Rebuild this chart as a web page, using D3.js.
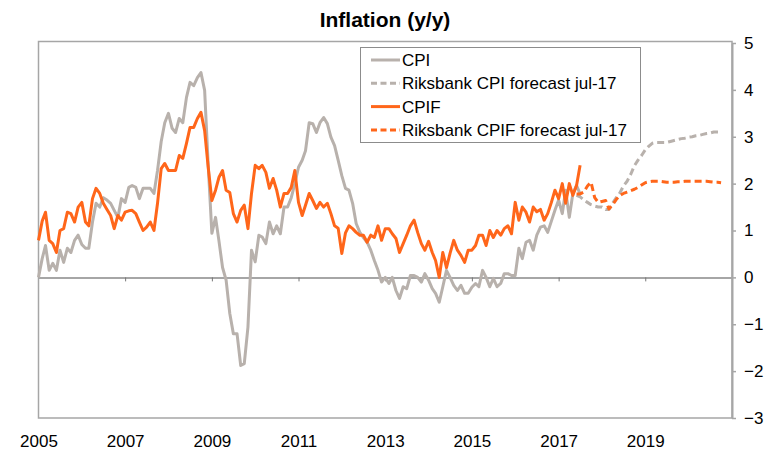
<!DOCTYPE html>
<html>
<head>
<meta charset="utf-8">
<script src="https://cdnjs.cloudflare.com/ajax/libs/d3/7.8.5/d3.min.js"></script>
<style>
  body { margin: 0; background: #fff; }
  text { font-family: Arial, "Liberation Sans", sans-serif; fill: #000; }
</style>
</head>
<body>
<div id="chart"></div>
<script>
// ---------- data (monthly, y/y %) ----------

// CPI, jan 2005 .. jul 2017 (one row per year)
var cpi = [
  0.0, 0.4, 0.68, 0.15, 0.3, 0.15, 0.58, 0.32, 0.62, 0.53, 0.79, 0.9,
  0.7, 0.62, 0.62, 1.18, 1.58, 1.5, 1.7, 1.65, 1.58, 1.43, 1.28, 1.68,
  1.6, 1.92, 1.96, 1.92, 1.68, 1.9, 1.9, 1.9, 1.79, 2.28, 2.9, 3.3,
  3.5, 3.18, 3.09, 3.39, 3.3, 3.84, 4.16, 4.09, 4.26, 4.37, 3.99, 2.4,
  0.94, 1.28, 0.79, 0.21, -0.06, -0.77, -1.2, -1.2, -1.88, -1.84, -1.06, 0.58,
  0.33, 0.9, 0.86, 0.72, 1.18, 0.93, 1.1, 0.93, 1.5, 1.5, 1.7, 2.0,
  2.35, 2.5, 2.7, 3.3, 3.28, 3.09, 3.3, 3.41, 3.28, 2.99, 2.81, 2.5,
  2.17, 1.9, 1.86, 1.58, 1.15, 0.96, 0.85, 0.75, 0.58, 0.36, 0.15, -0.1,
  0.0, -0.13, 0.0, -0.28, -0.45, -0.2, -0.24, 0.04, 0.04, 0.0, -0.1, 0.08,
  -0.06, -0.24, -0.34, -0.53, -0.2, 0.15, 0.0, -0.17, -0.28, -0.17, -0.34, -0.34,
  -0.21, -0.13, -0.2, 0.15, 0.0, -0.2, -0.02, -0.2, -0.13, 0.08, 0.08, 0.04,
  0.04, 0.62, 0.4, 0.75, 0.79, 0.58, 0.9, 1.07, 1.1, 0.96, 1.2, 1.43,
  1.65, 1.36, 1.86, 1.28, 1.79, 1.96, 1.78
];

// CPIF, jan 2005 .. jul 2017
var cpif = [
  0.79, 1.2, 1.39, 0.79, 0.72, 0.53, 1.0, 1.04, 1.39, 1.36, 1.18, 1.5,
  1.6, 1.18, 1.1, 1.68, 1.9, 1.79, 1.58, 1.45, 1.32, 1.04, 1.32, 1.22,
  1.39, 1.42, 1.43, 1.36, 1.18, 1.0, 1.07, 1.18, 1.0, 1.58, 2.32, 2.43,
  2.28, 2.28, 2.28, 2.6, 2.54, 2.86, 3.2, 3.2, 3.39, 3.52, 3.13, 2.35,
  1.64, 1.86, 2.13, 2.28, 1.86, 1.81, 1.36, 1.18, 1.43, 1.54, 1.04, 1.79,
  2.39, 2.32, 2.39, 2.24, 1.9, 2.11, 1.86, 1.5, 1.79, 1.79, 1.92, 2.28,
  1.6, 1.32, 1.54, 1.79, 1.64, 1.47, 1.6, 1.5, 1.58, 1.36, 1.1, 1.05,
  0.51, 0.95, 1.1, 1.04, 0.96, 0.9, 0.9, 0.75, 0.9, 0.85, 1.1, 0.79,
  1.04, 1.04, 0.93, 0.83, 0.53, 0.72, 0.9, 1.1, 1.22, 0.96, 0.72, 0.58,
  0.77, 0.53, 0.36, 0.0, 0.53, 0.21, 0.51, 0.79, 0.58, 0.47, 0.32, 0.58,
  0.58, 0.68, 0.9, 0.9, 0.68, 1.0, 0.85, 1.0, 0.9, 1.04, 1.1, 0.93,
  1.6, 1.22, 1.5, 1.39, 1.18, 1.5, 1.4, 1.45, 1.22, 1.36, 1.6, 1.86,
  1.68, 2.0, 1.58, 2.0, 1.75, 1.96, 2.39
];

// Riksbank forecasts jul-17, jun 2017 .. oct 2020
var forecastStart = 149; // months after jan 2005
var cpiForecast = [
  1.75, 1.72, 1.65, 1.6, 1.55, 1.52, 1.5, 1.5, 1.45, 1.45, 1.58, 1.7,
  1.8, 1.95, 2.05, 2.2, 2.38, 2.5, 2.6, 2.72, 2.8, 2.86, 2.88, 2.88,
  2.88, 2.88, 2.9, 2.92, 2.94, 2.96, 2.97, 2.99, 3.0, 3.02, 3.03, 3.05,
  3.07, 3.08, 3.1, 3.1, 3.1
];
var cpifForecast = [
  1.78, 1.78, 1.82, 1.95, 2.03, 1.7, 1.6, 1.62, 1.64, 1.46, 1.55, 1.66,
  1.75, 1.79, 1.82, 1.85, 1.88, 1.92, 1.97, 2.02, 2.04, 2.05, 2.05, 2.05,
  2.04, 2.03, 2.03, 2.03, 2.04, 2.04, 2.05, 2.05, 2.05, 2.05, 2.05, 2.05,
  2.05, 2.04, 2.03, 2.03, 2.02
];

var yearLabels = ["2005", "2007", "2009", "2011", "2013", "2015", "2017", "2019"];
var yTicks = [5, 4, 3, 2, 1, 0, -1, -2, -3];

var legendNames = ["CPI", "Riksbank CPI forecast jul-17", "CPIF", "Riksbank CPIF forecast jul-17"];

// ---------- chart ----------
var width = 765, height = 452;
var grey = "#b8b1ac", orange = "#ff661a", frame = "#a6a6a6";

var svg = d3.select("#chart").append("svg")
  .attr("width", width)
  .attr("height", height);

svg.append("rect").attr("width", width).attr("height", height).attr("fill", "#fff");

var x = d3.scaleTime()
  .domain([new Date(2005, 0, 1), new Date(2021, 0, 1)])
  .range([38.5, 732]);

var y = d3.scaleLinear()
  .domain([-3, 5])
  .range([418, 43]);

function month(i) { return new Date(2005, i, 1); }

// plot frame
svg.append("rect")
  .attr("x", 38.5).attr("y", 41.5)
  .attr("width", 732 - 38.5).attr("height", 418 - 41.5)
  .attr("fill", "none")
  .attr("stroke", frame)
  .attr("stroke-width", 1.5);

// zero line with year ticks
var zeroAxis = svg.append("g")
  .attr("transform", "translate(0," + y(0) + ")")
  .call(d3.axisBottom(x)
    .tickValues(d3.range(2007, 2021, 2).map(function(yr){ return new Date(yr, 0, 1); }))
    .tickSize(4)
    .tickSizeOuter(0)
    .tickFormat(""));
zeroAxis.select(".domain").attr("stroke", frame).attr("stroke-width", 2);
zeroAxis.selectAll(".tick line").attr("stroke", "#777").attr("stroke-width", 1);

// year labels under the frame
var labelAxis = svg.append("g")
  .attr("transform", "translate(0,418)")
  .call(d3.axisBottom(x)
    .tickValues(yearLabels.map(function(s){ return new Date(+s, 0, 1); }))
    .tickSize(0)
    .tickPadding(17)
    .tickFormat(function(d, i){ return yearLabels[i]; }));
labelAxis.select(".domain").remove();
labelAxis.selectAll("text").attr("font-size", 17).attr("font-family", "Arial, 'Liberation Sans', sans-serif").attr("fill", "#000");

// right value axis
var yAxis = svg.append("g")
  .attr("transform", "translate(732,0)")
  .call(d3.axisRight(y)
    .tickValues(yTicks)
    .tickSize(4)
    .tickSizeOuter(0)
    .tickPadding(8));
yAxis.select(".domain").attr("stroke", frame).attr("stroke-width", 2);
yAxis.selectAll(".tick line").attr("stroke", frame).attr("stroke-width", 1.5);
yAxis.selectAll("text").attr("font-size", 17).attr("font-family", "Arial, 'Liberation Sans', sans-serif").attr("fill", "#000");

// lines
var line = d3.line()
  .x(function(d){ return x(month(d.i)); })
  .y(function(d){ return y(d.v); });

function pts(arr, offset) {
  return arr.map(function(v, i){ return { i: i + offset, v: v }; });
}

var series = [
  { data: pts(cpi, 0), color: grey, dash: null },
  { data: pts(cpiForecast, forecastStart), color: grey, dash: "7,4" },
  { data: pts(cpif, 0), color: orange, dash: null },
  { data: pts(cpifForecast, forecastStart), color: orange, dash: "7,4" }
];

svg.selectAll("path.series")
  .data(series)
  .enter().append("path")
    .attr("class", "series")
    .attr("d", function(d){ return line(d.data); })
    .attr("fill", "none")
    .attr("stroke", function(d){ return d.color; })
    .attr("stroke-width", 3)
    .attr("stroke-linejoin", "round")
    .attr("stroke-dasharray", function(d){ return d.dash; });

// legend
var legend = svg.append("g");
legend.append("rect")
  .attr("x", 360.5).attr("y", 47.5)
  .attr("width", 280).attr("height", 95)
  .attr("fill", "#fff")
  .attr("stroke", "#8c8c8c")
  .attr("stroke-width", 1);

var rows = legend.selectAll("g.row")
  .data(series)
  .enter().append("g")
    .attr("class", "row")
    .attr("transform", function(d, i){ return "translate(0," + (60 + i * 23.3) + ")"; });

rows.append("line")
  .attr("x1", 371).attr("x2", 400)
  .attr("stroke", function(d){ return d.color; })
  .attr("stroke-width", 3)
  .attr("stroke-dasharray", function(d){ return d.dash ? "6,3.5" : null; });

rows.append("text")
  .attr("x", 402)
  .attr("y", 6)
  .attr("font-size", 17)
  .text(function(d, i){ return legendNames[i]; });

// title
svg.append("text")
  .attr("x", 385)
  .attr("y", 27)
  .attr("text-anchor", "middle")
  .attr("font-size", 21)
  .attr("font-weight", "bold")
  .text("Inflation (y/y)");
</script>
</body>
</html>
